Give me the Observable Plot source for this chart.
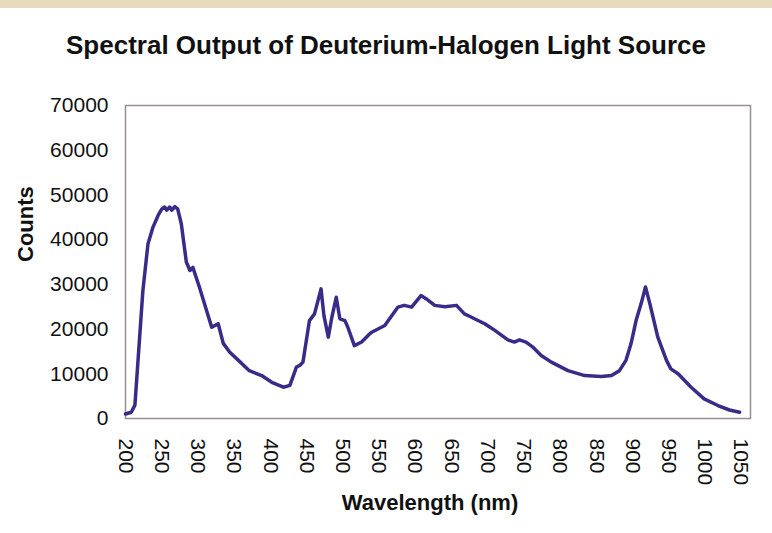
<!DOCTYPE html>
<html><head><meta charset="utf-8">
<script src="https://cdn.jsdelivr.net/npm/d3@7"></script>
<script src="https://cdn.jsdelivr.net/npm/@observablehq/plot@0.6"></script>
<style>
html,body{margin:0;padding:0;background:#fff;}
body{width:772px;height:533px;overflow:hidden;position:relative;font-family:"Liberation Sans",Arial,sans-serif;}
#band{position:absolute;left:0;top:0;width:772px;height:8px;background:#e8dbbb;}
#title{height:80px;box-sizing:border-box;padding-top:30px;line-height:30px;font-size:26px;font-weight:bold;text-align:center;color:#111;}
#chart svg{display:block;}
</style></head><body>
<div id="band"></div>
<div id="title">Spectral Output of Deuterium-Halogen Light Source</div>
<div id="chart"></div>
<script>
const wavelength = [200, 208, 213, 224, 231, 238, 245, 250, 254, 257, 261, 264, 268, 272, 277, 284, 289, 293, 302, 319, 328, 335, 344, 356, 371, 388, 402, 418, 427, 436, 441, 445, 454, 461, 470, 474, 480, 485, 491, 496, 503, 507, 516, 526, 537, 540, 558, 576, 585, 595, 608, 615, 627, 641, 657, 668, 677, 696, 710, 728, 737, 744, 753, 763, 774, 788, 811, 834, 857, 871, 882, 891, 898, 905, 912, 918, 924, 935, 947, 953, 963, 981, 999, 1018, 1034, 1048];
const counts = [1000, 1400, 3000, 28600, 39000, 42800, 45400, 46800, 47300, 46600, 47300, 46600, 47400, 46900, 43600, 35000, 33100, 33800, 29400, 20400, 21200, 16800, 14800, 13000, 10700, 9600, 8100, 7000, 7400, 11500, 11900, 12600, 21900, 23400, 29000, 23000, 18200, 22700, 27100, 22300, 21900, 20400, 16300, 17100, 18900, 19300, 20800, 24900, 25300, 24900, 27500, 26800, 25300, 25000, 25300, 23400, 22700, 21200, 19700, 17600, 17100, 17600, 17100, 15900, 14100, 12600, 10700, 9600, 9400, 9600, 10700, 13000, 16700, 21900, 25700, 29400, 25700, 18200, 13000, 11100, 10000, 7000, 4400, 2900, 1900, 1400];
const xTicks = [200, 250, 300, 350, 400, 450, 500, 550, 600, 650, 700, 750, 800, 850, 900, 950, 1000, 1050];
const yTicks = [0, 10000, 20000, 30000, 40000, 50000, 60000, 70000];
const xLabel = "Wavelength (nm)";
const yLabel = "Counts";

const data = wavelength.map((w, i) => ({w, c: counts[i]}));
const plot = Plot.plot({
  width: 772, height: 453,
  marginTop: 25, marginBottom: 115, marginLeft: 125, marginRight: 22,
  style: {fontFamily: "'Liberation Sans', Arial, sans-serif", fontSize: "21px", color: "#111", background: "transparent", overflow: "visible"},
  x: {domain: [200, 1063]},
  y: {domain: [0, 70000]},
  marks: [
    Plot.frame({stroke: "#9b8e8e", strokeWidth: 1.5}),
    Plot.axisX(xTicks, {tickSize: 0, tickPadding: 20, tickRotate: 90, tickFormat: d => String(d), label: null}),
    Plot.axisY(yTicks, {tickSize: 0, tickPadding: 17, tickFormat: d => String(d), label: null}),
    Plot.line(data, {x: "w", y: "c", stroke: "#3a2b88", strokeWidth: 3.5, strokeLinejoin: "round", strokeLinecap: "round"}),
    Plot.text([xLabel], {frameAnchor: "bottom", dy: 91, dx: -8, fontSize: 22, fontWeight: "bold", fill: "#111"}),
    Plot.text([yLabel], {frameAnchor: "left", dx: -100, rotate: -90, fontSize: 22, fontWeight: "bold", fill: "#111"})
  ]
});
document.getElementById("chart").appendChild(plot);
</script>
</body></html>
